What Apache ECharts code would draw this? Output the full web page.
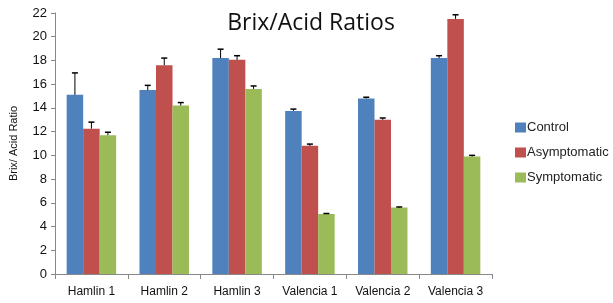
<!DOCTYPE html>
<html>
<head>
<meta charset="utf-8">
<script src="https://cdn.jsdelivr.net/npm/echarts@6/dist/echarts.min.js"></script>
<style>
  html, body { margin: 0; padding: 0; background: #fff; }
  #main { width: 613px; height: 303px; }
</style>
</head>
<body>
<div id="main"></div>
<script>
// data
var categories = ['Hamlin 1', 'Hamlin 2', 'Hamlin 3', 'Valencia 1', 'Valencia 2', 'Valencia 3'];
var seriesNames = ['Control', 'Asymptomatic', 'Symptomatic'];
var control = [15.1, 15.5, 18.2, 13.75, 14.8, 18.2];
var asymptomatic = [12.25, 17.6, 18.05, 10.8, 13.0, 21.5];
var symptomatic = [11.7, 14.2, 15.6, 5.05, 5.6, 9.9];
// top of each error bar
var controlErr = [16.95, 15.9, 18.95, 13.9, 14.9, 18.4];
var asymptomaticErr = [12.8, 18.2, 18.4, 10.95, 13.15, 21.85];
var symptomaticErr = [11.95, 14.45, 15.85, 5.1, 5.65, 10.0];

var colors = ['#4F81BD', '#C0504D', '#9BBB59'];
var barW = 16.5;

var myChart = echarts.init(document.getElementById('main'));

function errSeries(vals, errs, idx) {
    var data = vals.map(function (v, i) { return [i, v, errs[i]]; });
    return {
        type: 'custom',
        name: seriesNames[idx] + ' err',
        z: 5,
        silent: true,
        renderItem: function (params, api) {
            var base = api.coord([api.value(0), api.value(1)]);
            var top = api.coord([api.value(0), api.value(2)]);
            var x = base[0] + (idx - 1) * barW;
            return {
                type: 'group',
                children: [
                    { type: 'line', shape: { x1: x, y1: base[1], x2: x, y2: top[1] }, style: { stroke: '#000', lineWidth: 1 } },
                    { type: 'line', shape: { x1: x - 3, y1: top[1], x2: x + 3, y2: top[1] }, style: { stroke: '#000', lineWidth: 1.5 } }
                ]
            };
        },
        data: data
    };
}

var option = {
    animation: false,
    title: {
        text: 'Brix/Acid Ratios',
        left: 306,
        textAlign: 'center',
        top: 7,
        textStyle: { fontFamily: 'Open Sans', fontSize: 23, fontWeight: 'normal', color: '#111' }
    },
    legend: {
        orient: 'vertical',
        left: 510,
        top: 116,
        itemWidth: 11,
        itemHeight: 10,
        itemGap: 12,
        icon: 'rect',
        data: seriesNames,
        textStyle: { fontFamily: 'Liberation Sans', fontSize: 13, color: '#222', padding: [0, 0, 0, -4] }
    },
    grid: { left: 55, right: 121, top: 13, bottom: 29 },
    xAxis: {
        type: 'category',
        data: categories,
        axisLine: { lineStyle: { color: '#888' } },
        axisTick: { show: true, length: 5, lineStyle: { color: '#888' } },
        axisLabel: { fontFamily: 'Liberation Sans', fontSize: 12, color: '#111', margin: 12 }
    },
    yAxis: {
        type: 'value',
        min: 0,
        max: 22,
        interval: 2,
        name: 'Brix/ Acid Ratio',
        nameLocation: 'middle',
        nameGap: 36,
        nameTextStyle: { fontFamily: 'Liberation Sans', fontSize: 11, color: '#111' },
        axisLine: { show: true, lineStyle: { color: '#888' } },
        axisTick: { show: true, length: 4, lineStyle: { color: '#888' } },
        splitLine: { show: false },
        axisLabel: { fontFamily: 'Liberation Sans', fontSize: 13, color: '#111', margin: 8 }
    },
    series: [
        { name: seriesNames[0], type: 'bar', barWidth: barW, barGap: '0%', data: control, itemStyle: { color: colors[0] } },
        { name: seriesNames[1], type: 'bar', barWidth: barW, barGap: '0%', data: asymptomatic, itemStyle: { color: colors[1] } },
        { name: seriesNames[2], type: 'bar', barWidth: barW, barGap: '0%', data: symptomatic, itemStyle: { color: colors[2] } },
        errSeries(control, controlErr, 0),
        errSeries(asymptomatic, asymptomaticErr, 1),
        errSeries(symptomatic, symptomaticErr, 2)
    ]
};

myChart.setOption(option);
</script>
</body>
</html>
